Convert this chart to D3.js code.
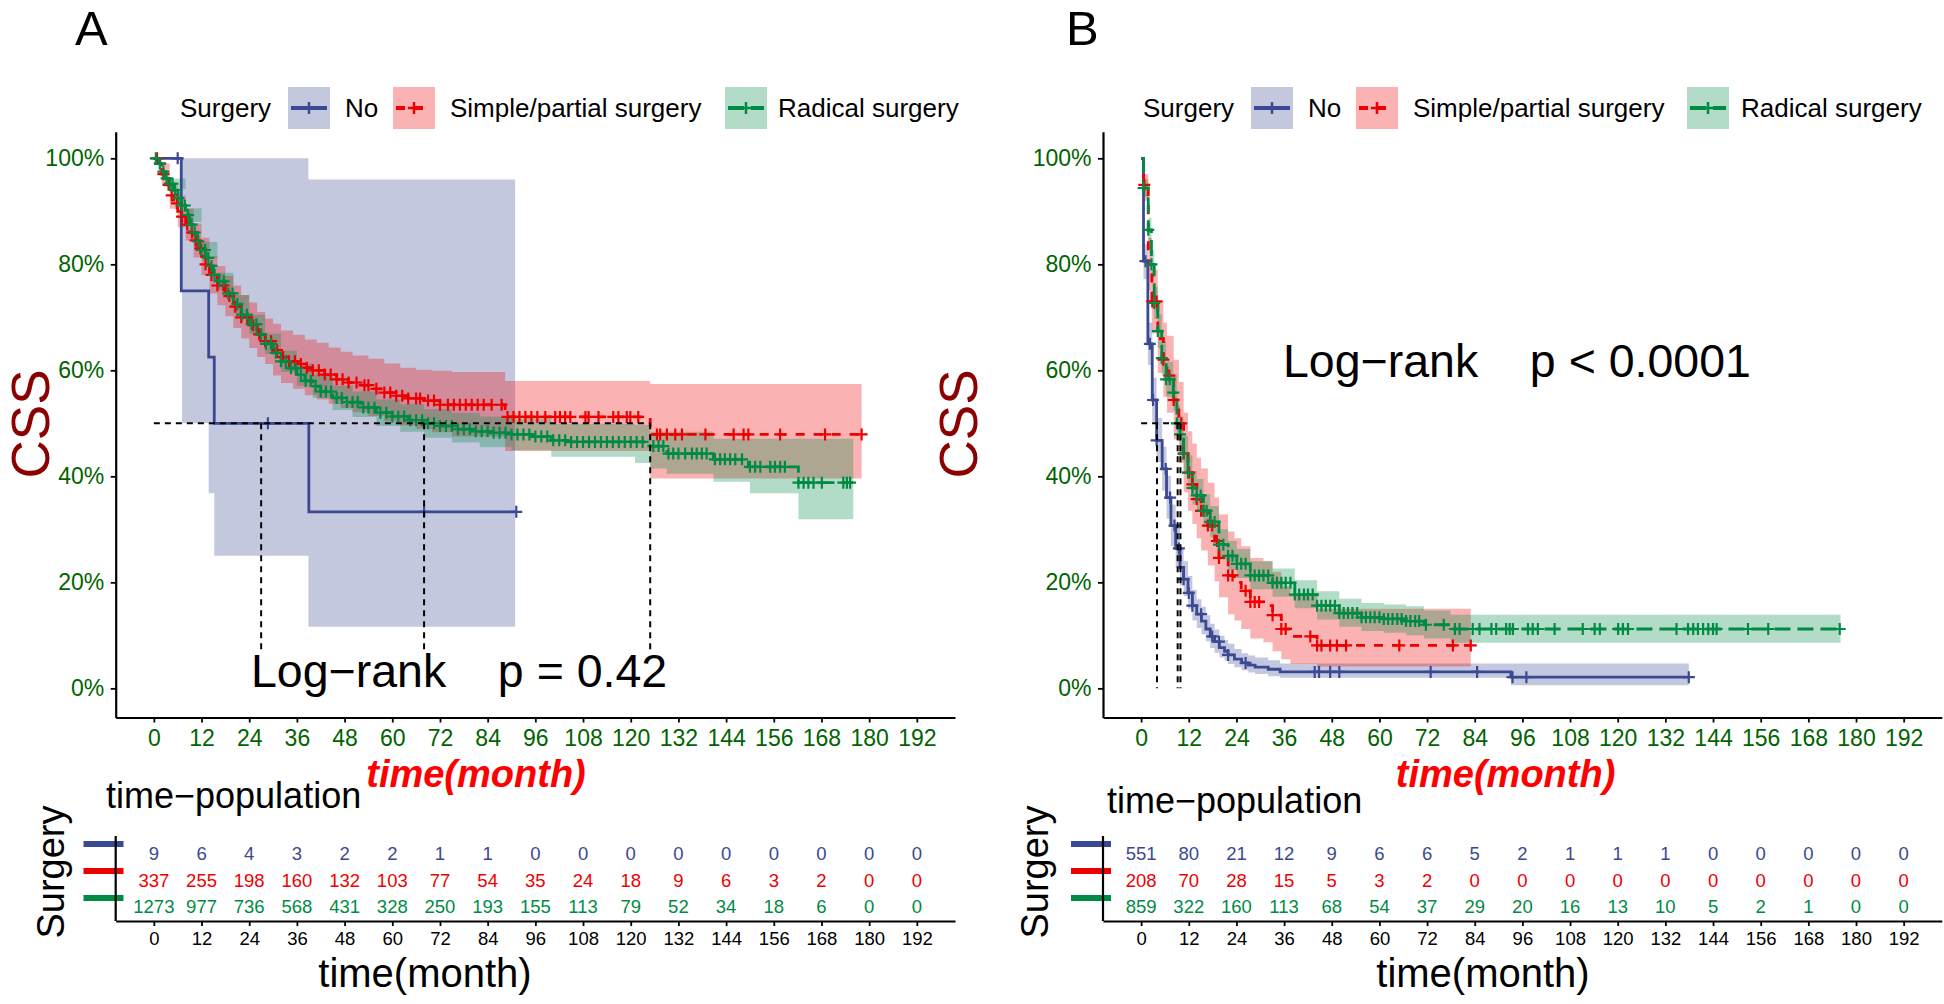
<!DOCTYPE html>
<html>
<head>
<meta charset="utf-8">
<script src="https://cdn.jsdelivr.net/npm/d3@7"></script>
<style>
  body { margin: 0; background: #fff; }
  text { font-family: "Liberation Sans", Arial, Helvetica, sans-serif; }
</style>
</head>
<body>
<script>
// survival curves, two panels, three surgery groups

var groups = ['No', 'Simple/partial surgery', 'Radical surgery'];
var colors = ['#3B4992', '#EE0000', '#008B45'];
var dashes = [null, '9,9', '16,7'];
var monthTicks = [0, 12, 24, 36, 48, 60, 72, 84, 96, 108, 120, 132, 144, 156, 168, 180, 192];
var pctTicks = [0, 0.2, 0.4, 0.6, 0.8, 1];

// ---- panel A ----
var aNoT = [0, 6.9, 13.8, 15.2, 39, 91.2];
var aNoS = [1, 0.75, 0.625, 0.5, 0.333, 0.333];
var aNoCiT = [0, 7.1, 13.8, 15.2, 38.9, 90.9];
var aNoLo = [1, 0.5, 0.368, 0.25, 0.116, 0.116];
var aNoUp = [1, 1, 1, 1, 0.96, 0.96];
var aNoCens = [6, 28.7, 68, 91.2];

var aSimT = [0, 1, 2, 3, 4, 5, 6, 7, 8, 9, 10, 11, 12, 13, 14, 16, 18, 20, 22, 24, 26, 28, 30, 32, 34, 36, 38, 40, 43, 46, 49, 52, 55, 58, 61, 64, 68, 72, 88.4, 124.9, 178.1];
var aSimS = [1, .99, .97, .95, .93, .915, .90, .89, .875, .86, .845, .83, .815, .80, .78, .76, .74, .72, .70, .685, .668, .655, .638, .625, .617, .612, .605, .60, .592, .583, .577, .572, .565, .558, .552, .547, .543, .535, .512, .479, .479];
var aSimCiT = [0, 2, 4, 6, 8, 10, 12, 14, 16, 18, 20, 22, 24, 26, 28, 30, 32, 35, 38, 41, 44, 47, 50, 54, 58, 62, 66, 70, 75, 88.4, 124.9, 178.1];
var aSimUp = [1, .99, .955, .93, .905, .877, .85, .815, .797, .778, .76, .742, .728, .71, .698, .688, .675, .667, .658, .652, .643, .635, .628, .622, .613, .605, .601, .599, .597, .58, .574, .574];
var aSimLo = [1, .95, .905, .87, .845, .813, .78, .745, .723, .702, .68, .66, .642, .625, .612, .59, .576, .565, .553, .545, .537, .529, .521, .514, .504, .496, .49, .483, .475, .448, .396, .396];
var aSimCens = [0.8, 1.6, 2.4, 3.7, 4.5, 5.8, 7.1, 8.4, 9.6, 10.5, 11.7, 13, 14.5, 16, 17.5, 19, 20.5, 22, 23.5, 25, 26.5, 28, 29.5, 31, 32.5, 34, 35.5, 37, 38.5, 40, 41.5, 43, 44.5, 46, 47.5, 49, 51, 53, 54, 56, 58, 59.5, 61, 62.5, 64, 66, 67, 69, 70.5, 72, 74, 75.5, 77, 78.5, 80, 81.5, 83, 85, 87.5, 89, 90.5, 92, 93.5, 95, 96.5, 98.5, 101, 102.2, 103.5, 104.8, 108.6, 109.4, 111.9, 115.6, 116.9, 119, 119.9, 121.9, 126.6, 127.4, 129.1, 131.2, 132.9, 138.8, 145.9, 148.4, 149.6, 157.6, 168.9, 178.1];

var aRadT = [0, 1, 2, 3, 4, 5, 6, 7, 8, 9, 10, 11, 12, 13, 14, 15, 16, 18, 20, 22, 24, 26, 28, 30, 32, 34, 36, 38, 40, 42, 45, 48, 52, 56, 60, 64, 68, 72, 76, 80, 85, 90, 95, 100, 104, 124.9, 129.1, 140.8, 149.6, 162.2, 176];
var aRadS = [1, .99, .975, .962, .952, .94, .925, .911, .893, .875, .86, .843, .827, .812, .797, .78, .768, .745, .725, .705, .687, .668, .65, .633, .617, .604, .592, .58, .57, .56, .548, .54, .53, .52, .513, .506, .5, .495, .489, .485, .482, .479, .475, .468, .465, .457, .443, .432, .418, .388, .388];
var aRadCiT = [0, 4, 8, 12, 16, 20, 24, 28, 32, 36, 40, 45, 50, 56, 62, 68, 75, 82, 90, 100, 121.1, 124.9, 129.1, 140.8, 150, 162.2, 176];
var aRadUp = [1, .962, .906, .842, .784, .742, .705, .669, .637, .613, .592, .571, .56, .545, .536, .527, .52, .513, .509, .499, .497, .484, .484, .471, .471, .471, .471];
var aRadLo = [1, .942, .88, .812, .752, .708, .669, .631, .597, .571, .548, .525, .512, .495, .484, .473, .464, .455, .449, .437, .425, .415, .405, .39, .368, .319, .319];
var aRadCens = [0.5, 1.5, 2.4, 3.2, 4, 4.7, 5.3, 6.2, 7, 7.8, 8.6, 9.5, 10.3, 11.2, 12, 12.9, 13.7, 14.5, 15.3, 16.5, 17.6, 18.7, 19.8, 21, 22.2, 23.4, 24.6, 25.8, 27, 28.2, 29.5, 30.7, 32, 33.2, 34.5, 35.7, 37, 38.2, 39.5, 40.7, 42, 43.3, 44.6, 46, 47.3, 48.6, 50, 51.3, 52.7, 54, 55.5, 57, 58.5, 60, 61.5, 63, 64.5, 66, 67.5, 69, 70.5, 72, 73.5, 75, 76.5, 78, 79.5, 81, 82.5, 84, 85.5, 87, 88.5, 90, 91.5, 93, 94.5, 96, 97.5, 99, 100.5, 102, 103.5, 105, 106.5, 108, 109.5, 111, 112.5, 114, 115.5, 117, 118.5, 120, 121.5, 123, 125.7, 127, 128.2, 129.5, 130.7, 132, 133.7, 135.4, 136.6, 137.9, 139.1, 141.2, 142.5, 143.7, 145, 146.3, 148, 150, 151.3, 152.6, 155.1, 156.3, 157.6, 158.8, 162.2, 163.5, 164.7, 166, 168.1, 173.5, 174.4, 175.2];

var aMedians = [27, 124.9, 68];
var aRiskNo = [9, 6, 4, 3, 2, 2, 1, 1, 0, 0, 0, 0, 0, 0, 0, 0, 0];
var aRiskSim = [337, 255, 198, 160, 132, 103, 77, 54, 35, 24, 18, 9, 6, 3, 2, 0, 0];
var aRiskRad = [1273, 977, 736, 568, 431, 328, 250, 193, 155, 113, 79, 52, 34, 18, 6, 0, 0];

// ---- panel B ----
var bNoT = [0, 0.6, 1.7, 2.8, 3.9, 5.3, 6.4, 7.5, 8.7, 9.8, 10.7, 11.8, 12.9, 14, 15.2, 16.3, 17.4, 18.5, 19.7, 21, 21.9, 23.5, 25.3, 27, 28.7, 32, 35, 93.1, 137.9];
var bNoS = [1, .806, .65, .544, .468, .414, .36, .307, .264, .228, .206, .18, .156, .14, .127, .112, .098, .088, .077, .07, .063, .055, .048, .044, .04, .036, .031, .021, .021];
var bNoLo = [1, .772, .61, .503, .427, .373, .32, .269, .228, .194, .174, .15, .128, .114, .102, .089, .076, .067, .058, .052, .046, .04, .034, .03, .027, .023, .02, .006, .006];
var bNoUp = [1, .838, .69, .586, .51, .456, .401, .347, .302, .264, .24, .212, .186, .168, .154, .138, .122, .111, .099, .091, .084, .074, .066, .062, .058, .053, .047, .047, .047];
var bNoCens = [1.1, 2.2, 3, 3.9, 6.2, 7.3, 8.4, 9.5, 10.7, 12, 12.9, 15.1, 17.9, 19.6, 21.9, 26.3, 43.7, 44.8, 47.6, 49.9, 72.9, 84.6, 93.5, 97, 137.9];

var bSimT = [0, 0.6, 1.8, 2.7, 4.2, 5.6, 6.5, 8.2, 9.5, 10.7, 11.8, 12.9, 14, 15.1, 16.8, 18.5, 19.6, 21.9, 23.5, 25.2, 27.5, 30.8, 33.1, 35.3, 37.6, 44.3, 83];
var bSimS = [1, .95, .8, .73, .66, .62, .59, .544, .5, .443, .407, .385, .357, .335, .307, .278, .246, .213, .2, .184, .163, .156, .138, .112, .098, .081, .081];
var bSimLo = [1, .92, .75, .67, .595, .55, .52, .47, .425, .37, .335, .31, .283, .26, .232, .202, .172, .14, .128, .112, .094, .087, .07, .055, .046, .041, .041];
var bSimUp = [1, .97, .85, .79, .73, .69, .665, .62, .578, .52, .485, .462, .435, .415, .388, .36, .328, .296, .283, .268, .246, .24, .22, .192, .178, .15, .15];
var bSimCens = [0.8, 2.8, 3.9, 5.6, 7.1, 8.2, 10.1, 10.7, 12.1, 12.9, 14, 15.1, 15.7, 16.8, 17.9, 19.1, 19.6, 21.9, 23, 26.3, 27.5, 28.6, 29.7, 33.1, 35.3, 36.4, 42.6, 44.3, 45.4, 47.6, 49.3, 51.6, 65, 78.5, 83];

var bRadT = [0, 0.6, 1.8, 2.6, 3.3, 4.2, 5.2, 6.3, 8.1, 9, 9.8, 10.7, 11.8, 12.9, 14, 15.7, 17.4, 19.6, 21.9, 24.1, 27.5, 33.1, 38.7, 44.3, 49.9, 55.5, 61.1, 66.7, 71.2, 77.9, 176.1];
var bRadS = [1, .944, .865, .8, .727, .674, .623, .583, .558, .5, .479, .443, .407, .378, .364, .335, .314, .271, .25, .235, .213, .199, .177, .156, .142, .134, .131, .127, .12, .112, .112];
var bRadLo = [1, .928, .842, .773, .697, .642, .59, .55, .524, .466, .445, .41, .375, .347, .333, .305, .285, .243, .223, .208, .187, .173, .151, .13, .116, .108, .105, .1, .094, .086, .086];
var bRadUp = [1, .96, .888, .827, .757, .706, .656, .616, .592, .534, .513, .476, .44, .41, .395, .366, .344, .3, .278, .263, .24, .226, .204, .183, .169, .161, .158, .155, .147, .139, .139];
var bRadCens = [0.6, 1.8, 2.6, 3.3, 4.2, 5.2, 6.3, 7.2, 8.1, 9, 9.8, 10.7, 11.8, 12.9, 14, 15, 15.7, 16.5, 17.4, 18.5, 19.6, 20.7, 21.9, 23, 24.1, 25.2, 26.3, 27.5, 28.6, 29.7, 30.8, 32, 33.1, 34.2, 35.3, 36.4, 37.6, 38.7, 39.8, 41, 42, 43.2, 44.3, 45.4, 46.5, 47.6, 48.8, 49.9, 51, 52.1, 53.2, 54.4, 55.5, 56.6, 57.7, 58.8, 60, 61.1, 62.2, 63.3, 64.5, 65.6, 66.7, 67.8, 69, 70, 71.7, 76.2, 79, 80.2, 83.5, 85.2, 88.2, 89.4, 91.9, 92.8, 93.6, 97.4, 98.6, 99.9, 104.1, 111.2, 114.2, 115.5, 120.1, 121.3, 122.6, 134.8, 137.7, 139, 140.2, 141.5, 142.8, 144, 144.9, 152.8, 157.9, 175.9];

var bMedians = [4.0, 9.9, 9.2];
var bRiskNo = [551, 80, 21, 12, 9, 6, 6, 5, 2, 1, 1, 1, 0, 0, 0, 0, 0];
var bRiskSim = [208, 70, 28, 15, 5, 3, 2, 0, 0, 0, 0, 0, 0, 0, 0, 0, 0];
var bRiskRad = [859, 322, 160, 113, 68, 54, 37, 29, 20, 16, 13, 10, 5, 2, 1, 0, 0];

/*------------------------------------------------*/

var svg = d3.select('body').append('svg')
  .attr('width', 1944)
  .attr('height', 1004);

var panels = [
  {
    letter: 'A', letterX: 75, left: 115.7, right: 955,
    legendX: 180, boxX: [288, 393, 725], labelX: [345, 450, 778],
    cssX: 30, logX: 251, logY: 687, pText: 'p = 0.42',
    redTitleX: 476, popX: 106, popY: 808, tabLabelX: 50, barX: 83.5, blackTitleX: 425,
    series: [
      {t: aNoT, s: aNoS, ciT: aNoCiT, lo: aNoLo, up: aNoUp, cens: aNoCens},
      {t: aSimT, s: aSimS, ciT: aSimCiT, lo: aSimLo, up: aSimUp, cens: aSimCens},
      {t: aRadT, s: aRadS, ciT: aRadCiT, lo: aRadLo, up: aRadUp, cens: aRadCens}
    ],
    medians: aMedians,
    risk: [aRiskNo, aRiskSim, aRiskRad]
  },
  {
    letter: 'B', letterX: 1066, left: 1103, right: 1941.8,
    legendX: 1143, boxX: [1251, 1356, 1687], labelX: [1308, 1413, 1741],
    cssX: 958, logX: 1283, logY: 377, pText: 'p < 0.0001',
    redTitleX: 1505.6, popX: 1107, popY: 813, tabLabelX: 1034, barX: 1071, blackTitleX: 1483,
    series: [
      {t: bNoT, s: bNoS, ciT: bNoT, lo: bNoLo, up: bNoUp, cens: bNoCens},
      {t: bSimT, s: bSimS, ciT: bSimT, lo: bSimLo, up: bSimUp, cens: bSimCens},
      {t: bRadT, s: bRadS, ciT: bRadT, lo: bRadLo, up: bRadUp, cens: bRadCens}
    ],
    medians: bMedians,
    risk: [bRiskNo, bRiskSim, bRiskRad]
  }
];

var survAt = function(times, surv, t) {
  var i = d3.bisectRight(times, t) - 1;
  return surv[Math.max(0, i)];
};

var drawPanel = function(P) {
  var x = d3.scaleLinear().domain([-9.6, 201.6]).range([P.left, P.right]);
  var y = d3.scaleLinear().domain([-0.055, 1.05]).range([717.5, 131.8]);
  var g = svg.append('g');

  // panel letter
  g.append('text').attr('x', P.letterX).attr('y', 45)
    .attr('font-size', 49).text(P.letter);

  // legend
  g.append('text').attr('x', P.legendX).attr('y', 117.3)
    .attr('font-size', 26).text('Surgery');
  groups.forEach(function(name, i) {
    var bx = P.boxX[i];
    g.append('rect').attr('x', bx).attr('y', 87).attr('width', 42).attr('height', 42)
      .attr('fill', colors[i]).attr('fill-opacity', 0.3);
    g.append('line').attr('x1', bx + 3).attr('x2', bx + 39).attr('y1', 108).attr('y2', 108)
      .attr('stroke', colors[i]).attr('stroke-width', 4)
      .attr('stroke-dasharray', dashes[i]);
    g.append('path').attr('d', 'M' + (bx + 15) + ',108H' + (bx + 27) + 'M' + (bx + 21) + ',102V114')
      .attr('stroke', colors[i]).attr('stroke-width', 2.5).attr('fill', 'none');
    g.append('text').attr('x', P.labelX[i]).attr('y', 117.3)
      .attr('font-size', 26).text(name);
  });

  // confidence bands
  var band = d3.area()
    .x(function(d) { return x(d.t); })
    .y0(function(d) { return y(d.lo); })
    .y1(function(d) { return y(d.up); })
    .curve(d3.curveStepAfter);
  P.series.forEach(function(s, i) {
    var pts = s.ciT.map(function(t, j) { return {t: t, lo: s.lo[j], up: s.up[j]}; });
    g.append('path').datum(pts).attr('d', band)
      .attr('fill', colors[i]).attr('fill-opacity', 0.3);
  });

  // survival curves
  var line = d3.line()
    .x(function(d) { return x(d.t); })
    .y(function(d) { return y(d.s); })
    .curve(d3.curveStepAfter);
  P.series.forEach(function(s, i) {
    var pts = s.t.map(function(t, j) { return {t: t, s: s.s[j]}; });
    g.append('path').datum(pts).attr('d', line)
      .attr('fill', 'none').attr('stroke', colors[i]).attr('stroke-width', 2.8)
      .attr('stroke-dasharray', dashes[i]);
  });

  // censor marks
  P.series.forEach(function(s, i) {
    g.append('g').selectAll('path').data(s.cens).enter().append('path')
      .attr('d', function(t) {
        var cx = x(t), cy = y(survAt(s.t, s.s, t));
        return 'M' + (cx - 6) + ',' + cy + 'H' + (cx + 6) + 'M' + cx + ',' + (cy - 6) + 'V' + (cy + 6);
      })
      .attr('stroke', colors[i]).attr('stroke-width', 2.2).attr('fill', 'none');
  });

  // median survival lines
  g.append('line')
    .attr('x1', x(0)).attr('x2', x(d3.max(P.medians)))
    .attr('y1', y(0.5)).attr('y2', y(0.5))
    .attr('stroke', '#000').attr('stroke-width', 2).attr('stroke-dasharray', '6,5');
  g.selectAll('.med').data(P.medians).enter().append('line')
    .attr('x1', function(d) { return x(d); }).attr('x2', function(d) { return x(d); })
    .attr('y1', y(0.5)).attr('y2', y(0))
    .attr('stroke', '#000').attr('stroke-width', 2).attr('stroke-dasharray', '6,5');

  // log-rank label on white
  var lr = g.append('text').attr('x', P.logX).attr('y', P.logY)
    .attr('font-size', 46.5).attr('xml:space', 'preserve').style('white-space', 'pre')
    .text('Log\u2212rank    ' + P.pText);
  var bb = lr.node().getBBox();
  g.insert('rect', function() { return lr.node(); })
    .attr('x', bb.x).attr('y', bb.y + 6).attr('width', bb.width).attr('height', bb.height - 6)
    .attr('fill', '#fff');

  // axes
  var yAxis = d3.axisLeft(y).tickValues(pctTicks).tickFormat(d3.format('.0%'))
    .tickSize(5).tickSizeOuter(0).tickPadding(6.5);
  var xAxis = d3.axisBottom(x).tickValues(monthTicks)
    .tickSize(5).tickSizeOuter(0).tickPadding(6.7);
  var ya = g.append('g').attr('transform', 'translate(' + P.left + ',0)').call(yAxis);
  var xa = g.append('g').attr('transform', 'translate(0,717.5)').call(xAxis);
  [ya, xa].forEach(function(a) {
    a.select('.domain').attr('stroke-width', 2.2);
    a.selectAll('.tick line').attr('stroke-width', 1.8);
    a.selectAll('.tick text').attr('font-size', 23).attr('fill', '#006400')
      .attr('font-family', '"Liberation Sans", Arial, sans-serif');
  });

  g.append('text')
    .attr('transform', 'translate(' + P.cssX + ',424) rotate(-90)')
    .attr('text-anchor', 'middle').attr('dy', '0.36em')
    .attr('font-size', 53).attr('fill', '#8B0000').text('CSS');

  g.append('text').attr('x', P.redTitleX).attr('y', 787)
    .attr('text-anchor', 'middle').attr('font-size', 38)
    .attr('font-weight', 'bold').attr('font-style', 'italic')
    .attr('fill', '#FF0000').text('time(month)');

  // risk table
  g.append('text').attr('x', P.popX).attr('y', P.popY)
    .attr('font-size', 36).text('time\u2212population');

  var rowY = [853, 880, 906];
  var barY = [844, 871, 898];
  P.risk.forEach(function(vals, i) {
    g.append('g').selectAll('text').data(vals).enter().append('text')
      .attr('x', function(d, j) { return x(monthTicks[j]); })
      .attr('y', rowY[i] + 6.6)
      .attr('text-anchor', 'middle').attr('font-size', 18.5)
      .attr('fill', colors[i])
      .text(function(d) { return d; });
    g.append('rect').attr('x', P.barX).attr('y', barY[i] - 3)
      .attr('width', 40).attr('height', 6).attr('fill', colors[i]);
  });

  g.append('line').attr('x1', P.left).attr('x2', P.left).attr('y1', 836).attr('y2', 921)
    .attr('stroke', '#000').attr('stroke-width', 2.2);
  var tAxis = d3.axisBottom(x).tickValues(monthTicks)
    .tickSize(5).tickSizeOuter(0).tickPadding(5.5);
  var ta = g.append('g').attr('transform', 'translate(0,921)').call(tAxis);
  ta.select('.domain').attr('stroke-width', 2.2);
  ta.selectAll('.tick line').attr('stroke-width', 1.8);
  ta.selectAll('.tick text').attr('font-size', 18.5).attr('fill', '#000')
    .attr('font-family', '"Liberation Sans", Arial, sans-serif');

  g.append('text')
    .attr('transform', 'translate(' + P.tabLabelX + ',872) rotate(-90)')
    .attr('text-anchor', 'middle').attr('dy', '0.36em')
    .attr('font-size', 38).text('Surgery');

  g.append('text').attr('x', P.blackTitleX).attr('y', 987)
    .attr('text-anchor', 'middle').attr('font-size', 40).text('time(month)');
};

panels.forEach(drawPanel);
</script>
</body>
</html>
